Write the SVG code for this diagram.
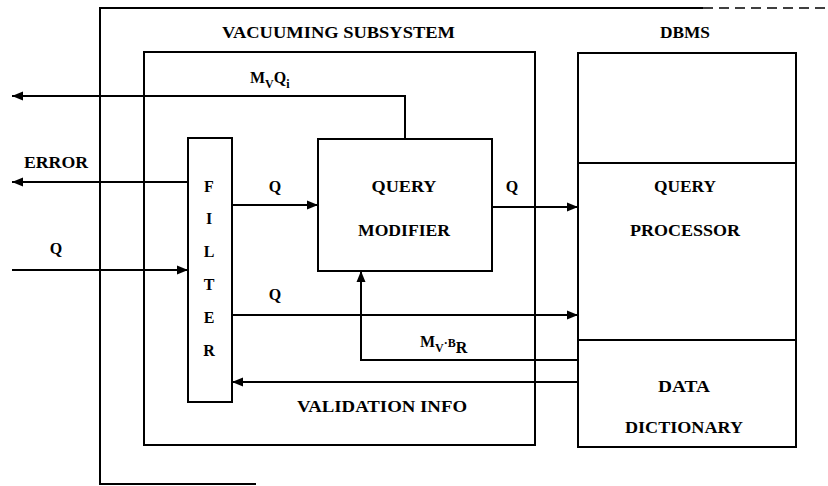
<svg xmlns="http://www.w3.org/2000/svg" width="828" height="486" viewBox="0 0 828 486">
<defs>
<marker id="arr" markerUnits="userSpaceOnUse" markerWidth="12" markerHeight="10" refX="11" refY="5" orient="auto">
<path d="M0,0.5 L11,5 L0,9.5 z" fill="#000"/>
</marker>
<style>
.box{fill:none;stroke:#000;stroke-width:2}
.ln{fill:none;stroke:#000;stroke-width:2;marker-end:url(#arr)}
text{font-family:"Liberation Serif","Times New Roman",serif;font-weight:bold;font-size:16px;fill:#000}
.c{text-anchor:middle}
.s{font-size:12px}
</style>
</defs>
<rect width="828" height="486" fill="#fff"/>
<g id="outer">
<path class="box" d="M703,8 H100 V484 H256"/>
<path d="M703,8 H828" fill="none" stroke="#000" stroke-width="1.5" stroke-dasharray="10,6"/>
</g>
<g id="vacuuming-subsystem">
<rect class="box" x="144" y="52" width="391" height="393"/>
<text x="222" y="38" textLength="233" lengthAdjust="spacingAndGlyphs">VACUUMING SUBSYSTEM</text>
</g>
<g id="dbms">
<text x="685" y="38" class="c" textLength="50" lengthAdjust="spacingAndGlyphs">DBMS</text>
<rect class="box" x="578" y="53" width="218" height="394"/>
<line class="box" x1="578" y1="163" x2="796" y2="163"/>
</g>
<g id="query-processor">
<line class="box" x1="578" y1="340" x2="796" y2="340"/>
<text x="685" y="192" class="c" textLength="62" lengthAdjust="spacingAndGlyphs">QUERY</text>
<text x="685" y="236" class="c" textLength="110" lengthAdjust="spacingAndGlyphs">PROCESSOR</text>
</g>
<g id="data-dictionary">
<text x="684" y="392" class="c" textLength="52" lengthAdjust="spacingAndGlyphs">DATA</text>
<text x="684" y="433" class="c" textLength="118" lengthAdjust="spacingAndGlyphs">DICTIONARY</text>
</g>
<g id="filter">
<rect class="box" x="188" y="138" width="44" height="264"/>
<text x="209" y="192" class="c">F</text>
<text x="209" y="224" class="c">I</text>
<text x="209" y="257" class="c">L</text>
<text x="209" y="290" class="c">T</text>
<text x="209" y="323" class="c">E</text>
<text x="209" y="356" class="c">R</text>
</g>
<g id="query-modifier">
<rect class="box" x="318" y="139" width="174" height="132"/>
<text x="404" y="192" class="c" textLength="65" lengthAdjust="spacingAndGlyphs">QUERY</text>
<text x="404" y="236" class="c" textLength="92" lengthAdjust="spacingAndGlyphs">MODIFIER</text>
</g>
<g id="connectors">
<path class="ln" d="M405,139 V96 H12"/>
<path class="ln" d="M188,182 H12"/>
<path class="ln" d="M12,270 H188"/>
<path class="ln" d="M232,205 H318"/>
<path class="ln" d="M492,207 H578"/>
<path class="ln" d="M232,315 H578"/>
<path class="ln" d="M578,360 H361 V271"/>
<path class="ln" d="M578,382 H232"/>
</g>
<g id="labels">
<text x="250" y="83">M<tspan class="s" dy="5">V</tspan><tspan dy="-5">Q</tspan><tspan class="s" dy="5">i</tspan></text>
<text x="24" y="168" textLength="64" lengthAdjust="spacingAndGlyphs">ERROR</text>
<text x="56" y="254" class="c">Q</text>
<text x="275" y="192" class="c">Q</text>
<text x="512" y="192" class="c">Q</text>
<text x="275" y="300" class="c">Q</text>
<text x="420" y="347">M<tspan class="s" dy="5">V</tspan><tspan class="s" dy="-5">·B</tspan><tspan dy="6">R</tspan></text>
<text x="297" y="412" textLength="170" lengthAdjust="spacingAndGlyphs">VALIDATION INFO</text>
</g>
</svg>
